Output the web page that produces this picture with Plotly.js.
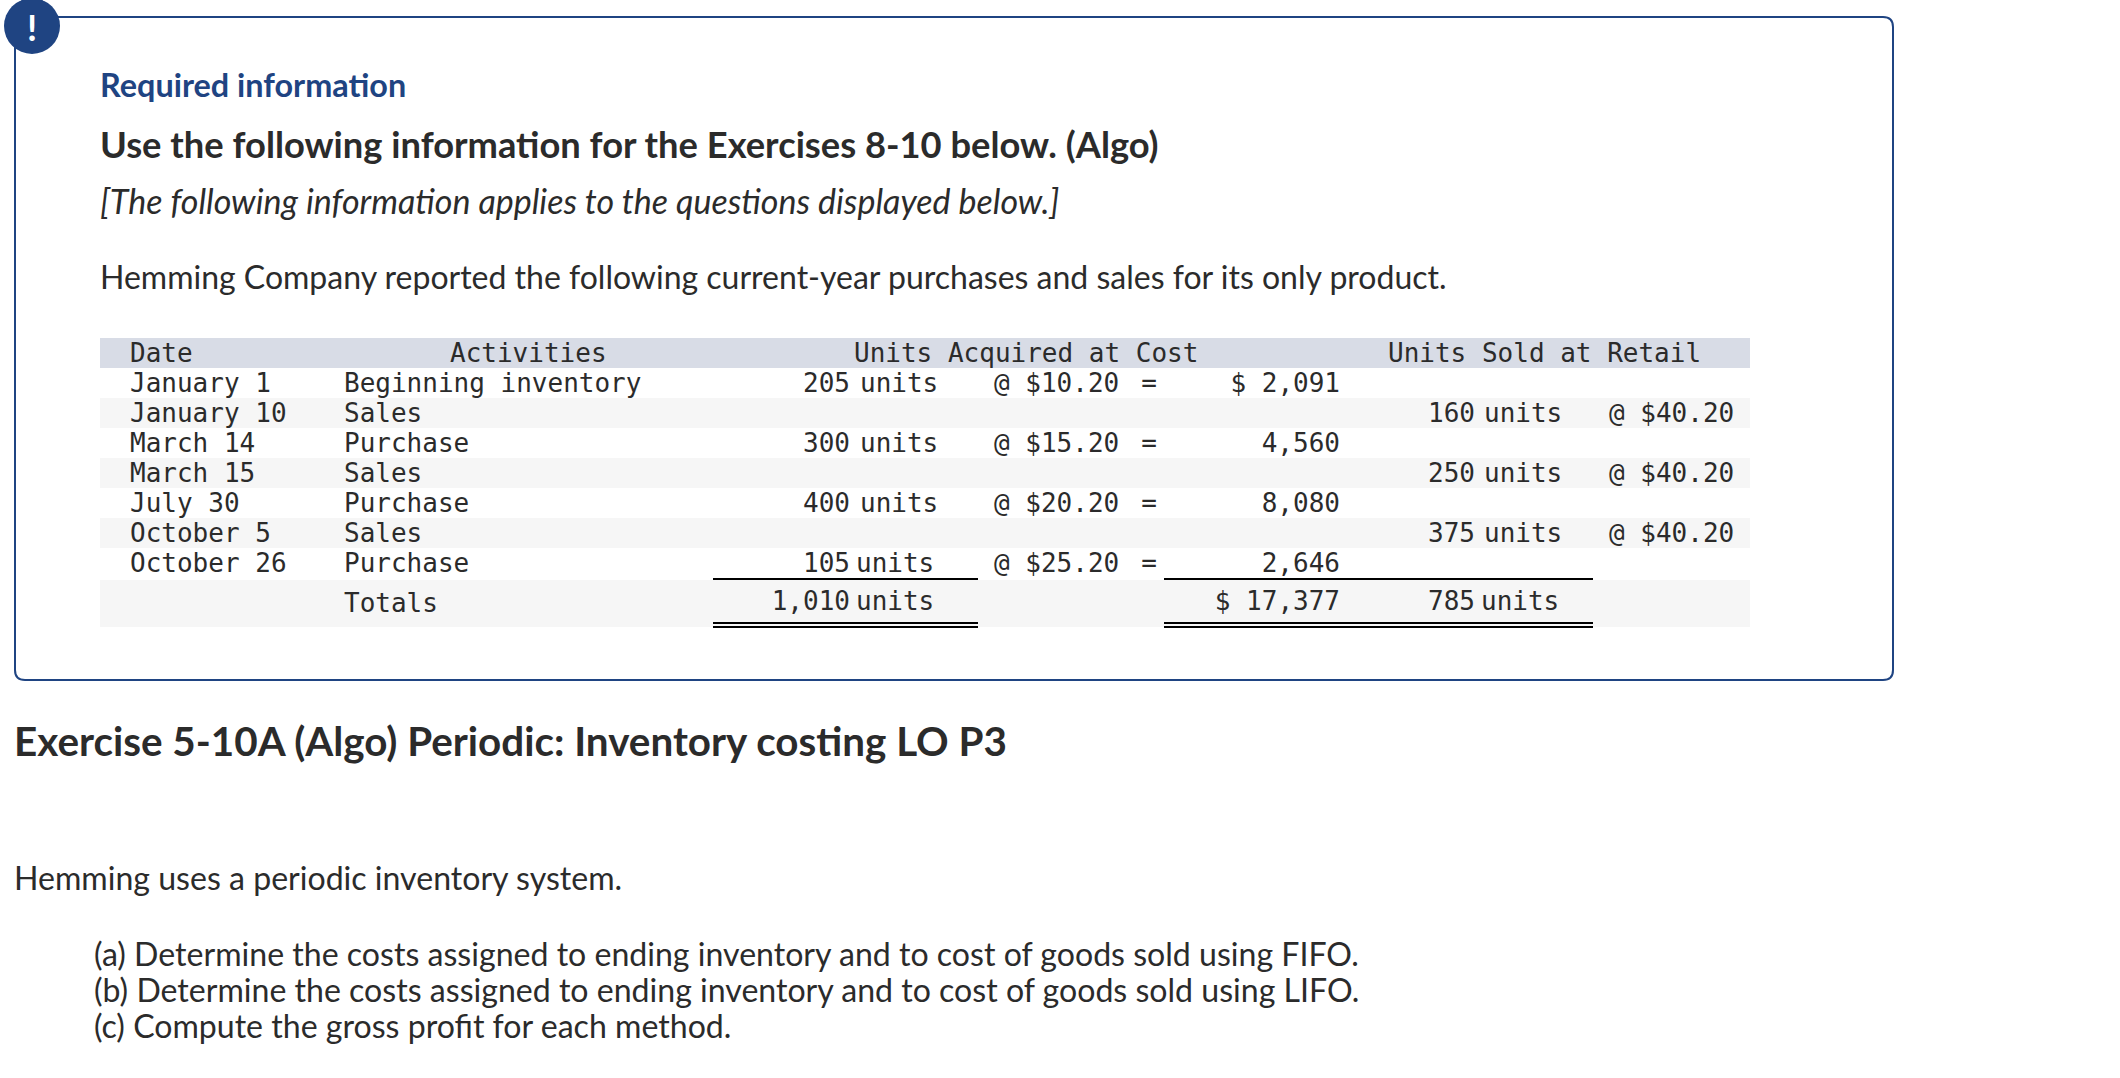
<!DOCTYPE html>
<html><head><meta charset="utf-8">
<script src="https://cdn.plot.ly/plotly-3.0.1.min.js"></script>
<style>html,body{margin:0;padding:0;background:#fff}#c{width:2120px;height:1078px}</style>
</head><body><div id="c"></div>
<script>
// ---- table content ----
const headers = ["Date","Activities","Units Acquired at Cost","Units Sold at Retail"];
const dates = ["January 1","January 10","March 14","March 15","July 30","October 5","October 26"];
const activities = ["Beginning inventory","Sales","Purchase","Sales","Purchase","Sales","Purchase"];
const acquiredUnits = ["205","","300","","400","","105"];
const acquiredCost = ["@ $10.20","","@ $15.20","","@ $20.20","","@ $25.20"];
const acquiredTotal = ["$ 2,091","","4,560","","8,080","","2,646"];
const soldUnits = ["","160","","250","","375",""];
const soldRetail = ["","@ $40.20","","@ $40.20","","@ $40.20",""];
const totalsRow = {label:"Totals", units:"1,010", cost:"$ 17,377", sold:"785"};
const unitWord = "units";
// ---- prose ----
const requiredLabel = "Required information";
const useLine = "Use the following information for the Exercises 8-10 below. (Algo)";
const noteLine = "[The following information applies to the questions displayed below.]";
const introLine = "Hemming Company reported the following current-year purchases and sales for its only product.";
const exerciseTitle = "Exercise 5-10A (Algo) Periodic: Inventory costing LO P3";
const systemLine = "Hemming uses a periodic inventory system.";
const tasks = ["(a) Determine the costs assigned to ending inventory and to cost of goods sold using FIFO.",
 "(b) Determine the costs assigned to ending inventory and to cost of goods sold using LIFO.",
 "(c) Compute the gross profit for each method."];

// ---- layout constants ----
const NAVY="#1f4482", INK="#2b2b2b", HEAD="#d8dce6", STRIPE="#f6f6f6";
const rowY = dates.map((_,i)=>385+i*30);
const mono="'DejaVu Sans Mono', monospace", sans="Lato, 'Open Sans', sans-serif";
const MS=26;
function col(xs,ys,txt,pos,font){
  const X=[],Y=[],T=[];
  txt.forEach((t,i)=>{ if(t!==""){X.push(Array.isArray(xs)?xs[i]:xs);Y.push(ys[i]);T.push(t);} });
  return {type:"scatter",mode:"text",x:X,y:Y,text:T,textposition:pos,textfont:font,hoverinfo:"skip",showlegend:false,cliponaxis:false};
}
const mf={family:mono,size:MS,color:INK};
const wordsFor=(arr)=>arr.map(v=>v===""?"":unitWord);
const traces=[
 col(130,[355],[headers[0]],"middle right",mf),
 col(450,[355],[headers[1]],"middle right",mf),
 col(854,[355],[headers[2]],"middle right",mf),
 col(1388,[355],[headers[3]],"middle right",mf),
 col(130,rowY,dates,"middle right",mf),
 col(344,rowY,activities,"middle right",mf),
 col(850,rowY,acquiredUnits,"middle left",mf),
 col(rowY.map((_,i)=>i==6?856:860),rowY,wordsFor(acquiredUnits),"middle right",mf),
 col(994,rowY,acquiredCost,"middle right",mf),
 col(1149,rowY,acquiredCost.map(v=>v===""?"":"="),"middle center",mf),
 col(1340,rowY,acquiredTotal,"middle left",mf),
 col(1475,rowY,soldUnits,"middle left",mf),
 col(1484,rowY,wordsFor(soldUnits),"middle right",mf),
 col(1609,rowY,soldRetail,"middle right",mf),
 col(344,[605],[totalsRow.label],"middle right",mf),
 col(850,[603],[totalsRow.units],"middle left",mf),
 col(856,[603],[unitWord],"middle right",mf),
 col(1340,[603],[totalsRow.cost],"middle left",mf),
 col(1475,[603],[totalsRow.sold],"middle left",mf),
 col(1481,[603],[unitWord],"middle right",mf),
 col(100,[89],[requiredLabel],"middle right",{family:sans,size:32.4,color:NAVY,weight:700}),
 col(100,[149],[useLine],"middle right",{family:sans,size:36.3,color:INK,weight:700}),
 col(100,[205],[noteLine],"middle right",{family:sans,size:34,color:INK,style:"italic"}),
 col(100,[281],[introLine],"middle right",{family:sans,size:32,color:INK}),
 col(14,[746],[exerciseTitle],"middle right",{family:sans,size:40.4,color:INK,weight:700}),
 col(14,[882],[systemLine],"middle right",{family:sans,size:32.1,color:INK}),
 col(94,[958,994,1030],tasks,"middle right",{family:sans,size:32.1,color:INK}),
 col(32,[32],["!"],"middle center",{family:sans,size:36,color:"#ffffff",weight:700})
];
function rect(x0,y0,x1,y1,c){return {type:"rect",xref:"x",yref:"y",x0,y0,x1,y1,fillcolor:c,line:{width:0},layer:"below"};}
function hline(x0,x1,y,w){return {type:"line",xref:"x",yref:"y",x0,x1,y0:y,y1:y,line:{color:"#000",width:w||2},layer:"below"};}
const shapes=[
 {type:"path",xref:"x",yref:"y",path:"M 15 27 Q 15 17 25 17 L 1883 17 Q 1893 17 1893 27 L 1893 670 Q 1893 680 1883 680 L 25 680 Q 15 680 15 670 Z",fillcolor:"rgba(0,0,0,0)",line:{color:NAVY,width:2},layer:"below"},
 {type:"circle",xref:"x",yref:"y",x0:4,x1:60,y0:-2,y1:54,fillcolor:NAVY,line:{width:0},layer:"below"},
 rect(100,338,1750,368,HEAD),
 rect(100,398,1750,428,STRIPE),rect(100,458,1750,488,STRIPE),rect(100,518,1750,548,STRIPE),rect(100,580,1750,627,STRIPE),
 hline(713,978,579),hline(1164,1593,579),
 hline(713,978,623),hline(1164,1593,623),hline(713,978,627),hline(1164,1593,627)
];
Plotly.newPlot("c",traces,{
 width:2120,height:1078,margin:{l:0,r:0,t:0,b:0},paper_bgcolor:"#fff",plot_bgcolor:"#fff",showlegend:false,
 xaxis:{range:[0,2120],visible:false,fixedrange:true},
 yaxis:{range:[1078,0],visible:false,fixedrange:true},
 shapes
},{displayModeBar:false,staticPlot:true});
</script></body></html>
